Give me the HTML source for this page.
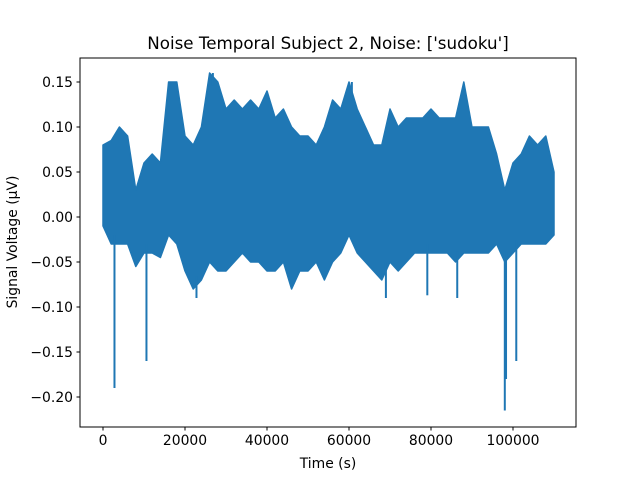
<!DOCTYPE html>
<html><head><meta charset="utf-8"><style>
body{margin:0;background:#fff;}
svg text{font-family:"DejaVu Sans","Liberation Sans",sans-serif;fill:#000;}
</style></head><body>
<svg width="640" height="480" viewBox="0 0 640 480" xmlns="http://www.w3.org/2000/svg">
<rect width="640" height="480" fill="#fff"/>
<g id="plot"></g>
<rect x="80" y="58" width="496" height="369" fill="none" stroke="#000" stroke-width="1"/>
<g id="xt"></g>
<g id="yt"></g>
<text x="328" y="49" font-size="16.7" text-anchor="middle">Noise Temporal Subject 2, Noise: ['sudoku']</text>
<text x="328" y="468" font-size="13.9" text-anchor="middle">Time (s)</text>
<text x="17" y="242" font-size="13.9" text-anchor="middle" transform="rotate(-90 17 242)">Signal Voltage (μV)</text>
</svg>
<script>
const times=[0,2000,4000,6000,8000,10000,12000,14000,16000,18000,20000,22000,24000,26000,28000,30000,32000,34000,36000,38000,40000,42000,44000,46000,48000,50000,52000,54000,56000,58000,60000,62000,64000,66000,68000,70000,72000,74000,76000,78000,80000,82000,84000,86000,88000,90000,92000,94000,96000,98000,100000,102000,104000,106000,108000,110000];
const upper=[0.08,0.085,0.10,0.09,0.03,0.06,0.07,0.06,0.15,0.15,0.09,0.08,0.10,0.16,0.15,0.12,0.13,0.12,0.13,0.12,0.14,0.11,0.12,0.10,0.09,0.09,0.08,0.10,0.13,0.12,0.15,0.12,0.10,0.08,0.08,0.12,0.10,0.11,0.11,0.11,0.12,0.11,0.11,0.11,0.15,0.10,0.10,0.10,0.07,0.03,0.06,0.07,0.09,0.08,0.09,0.05];
const lower=[-0.01,-0.03,-0.03,-0.03,-0.055,-0.04,-0.04,-0.045,-0.02,-0.03,-0.06,-0.08,-0.07,-0.05,-0.06,-0.06,-0.05,-0.04,-0.05,-0.05,-0.06,-0.06,-0.05,-0.08,-0.06,-0.06,-0.05,-0.07,-0.05,-0.04,-0.02,-0.04,-0.05,-0.06,-0.07,-0.05,-0.06,-0.05,-0.04,-0.04,-0.04,-0.04,-0.04,-0.05,-0.04,-0.04,-0.04,-0.04,-0.03,-0.05,-0.04,-0.03,-0.03,-0.03,-0.03,-0.02];
const spikeTimes=[2800,10600,22800,69000,79100,86400,98000,98300,100800,60700,26800];
const spikeValues=[-0.19,-0.16,-0.09,-0.09,-0.087,-0.09,-0.215,-0.18,-0.16,0.15,0.16];
const xTicks=[0,20000,40000,60000,80000,100000];
const yTicks=[0.15,0.10,0.05,0.00,-0.05,-0.10,-0.15,-0.20];
const NS='http://www.w3.org/2000/svg';
const X=t=>103+t*(82/20000);
const Y=v=>217-v*900;
function interp(arr,t){let i=Math.min(Math.floor(t/2000),arr.length-2);let f=(t-times[i])/2000;return arr[i]*(1-f)+arr[i+1]*f;}
const plot=document.getElementById('plot');
let pts=[];
for(let i=0;i<times.length;i++)pts.push(X(times[i]).toFixed(1)+','+Y(upper[i]).toFixed(1));
for(let i=times.length-1;i>=0;i--)pts.push(X(times[i]).toFixed(1)+','+Y(lower[i]).toFixed(1));
const poly=document.createElementNS(NS,'polygon');
poly.setAttribute('points',pts.join(' '));
poly.setAttribute('fill','#1f77b4');poly.setAttribute('stroke','#1f77b4');poly.setAttribute('stroke-width','1.5');poly.setAttribute('stroke-linejoin','round');


plot.appendChild(poly);
for(let i=0;i<spikeTimes.length;i++){
  const t=spikeTimes[i];const base=spikeValues[i]<0?interp(lower,t)+0.01:interp(upper,t)-0.01;
  const l=document.createElementNS(NS,'line');
  l.setAttribute('x1',X(t));l.setAttribute('x2',X(t));l.setAttribute('y1',Y(base));l.setAttribute('y2',Y(spikeValues[i]));
  l.setAttribute('stroke','#1f77b4');l.setAttribute('stroke-width','2');
  
  
  plot.appendChild(l);
}
const xt=document.getElementById('xt');
xTicks.forEach(t=>{
  const l=document.createElementNS(NS,'line');
  l.setAttribute('x1',X(t));l.setAttribute('x2',X(t));l.setAttribute('y1',427);l.setAttribute('y2',430.5);l.setAttribute('stroke','#000');
  
  
  xt.appendChild(l);
  const tx=document.createElementNS(NS,'text');
  tx.setAttribute('x',X(t));tx.setAttribute('y',445);tx.setAttribute('font-size','13.9');tx.setAttribute('text-anchor','middle');
  tx.textContent=String(t);
  
  
  xt.appendChild(tx);
});
const yt=document.getElementById('yt');
yTicks.forEach(v=>{
  const l=document.createElementNS(NS,'line');
  l.setAttribute('x1',76.5);l.setAttribute('x2',80);l.setAttribute('y1',Y(v));l.setAttribute('y2',Y(v));l.setAttribute('stroke','#000');
  
  
  yt.appendChild(l);
  const tx=document.createElementNS(NS,'text');
  tx.setAttribute('x',73);tx.setAttribute('y',Y(v)+5);tx.setAttribute('font-size','13.9');tx.setAttribute('text-anchor','end');
  tx.textContent=(v<0?'−':'')+Math.abs(v).toFixed(2);
  
  
  yt.appendChild(tx);
});
</script>
</body></html>
